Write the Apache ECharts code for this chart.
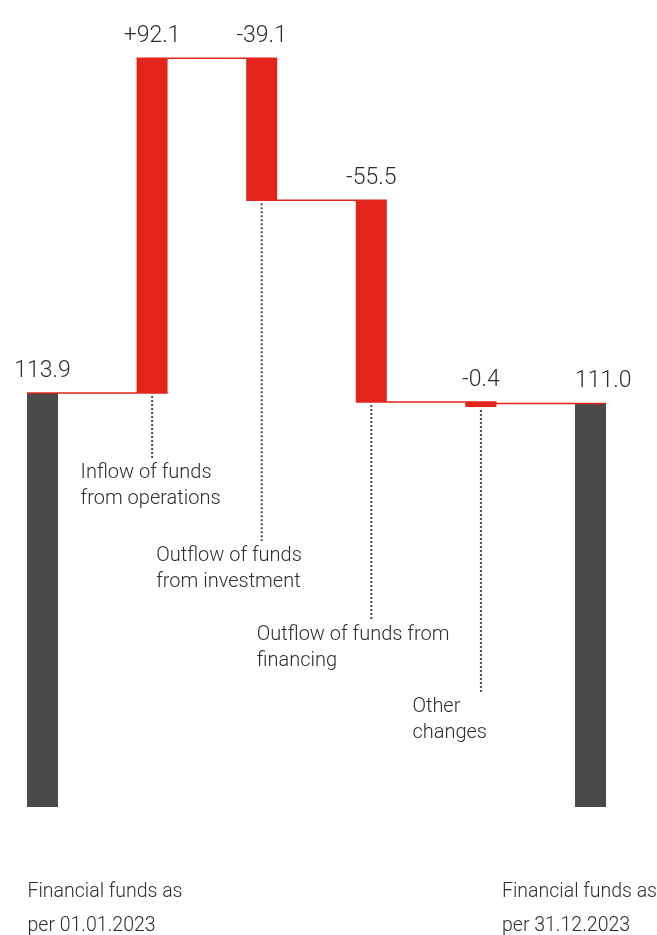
<!DOCTYPE html>
<html>
<head>
<meta charset="utf-8">
<script src="https://cdn.jsdelivr.net/npm/echarts@6/dist/echarts.min.js"></script>
<style>
html,body{margin:0;padding:0;background:#fff;}
#chart{width:657px;height:935px;}
</style>
</head>
<body>
<div id="chart"></div>
<script>
// ---- data ----
const categories = [
  'Financial funds as\nper 01.01.2023',
  'Inflow of funds\nfrom operations',
  'Outflow of funds\nfrom investment',
  'Outflow of funds from\nfinancing',
  'Other\nchanges',
  'Financial funds as\nper 31.12.2023'
];
const barKinds = ['total', 'change', 'change', 'change', 'change', 'total'];
const values = [113.9, 92.1, -39.1, -55.5, -0.4, 111.0];
const valueLabels = ['113.9', '+92.1', '-39.1', '-55.5', '-0.4', '111.0'];

// ---- styling / layout (pixels) ----
const RED = '#e3241b';
const DARK = '#4a4a48';
const TEXT = '#2e2e2e';
const BAR_W = 31;
const labelDx = [-15, -71.5, -105.5, -114.5, -68.5, -88.5];   // label left edge vs bar centre
const noteRise = [null, 349, 266, 187, 115, null];            // note position above baseline

// ---- build waterfall from data ----
let running = 0;
const seriesData = values.map((v, i) => {
  let start, end;
  if (barKinds[i] === 'total') { start = 0; end = v; }
  else { start = running; end = running + v; }
  running = end;
  return [i, start, end];
});
const n = seriesData.length;

function renderItem(params, api) {
  const i = api.value(0);
  const s = api.value(1);
  const e = api.value(2);
  const base = api.coord([i, 0]);
  const cx = base[0];
  const yBase = base[1];
  const yS = api.coord([i, s])[1];
  const yE = api.coord([i, e])[1];
  let top = Math.min(yS, yE);
  let bot = Math.max(yS, yE);
  if (bot - top < 5) bot = top + 5;
  const isTotal = barKinds[i] === 'total';
  const children = [];

  children.push({
    type: 'rect',
    shape: { x: cx - BAR_W / 2, y: top, width: BAR_W, height: bot - top },
    style: { fill: isTotal ? DARK : RED }
  });

  if (i < n - 1) {
    const nx = api.coord([i + 1, e])[0];
    children.push({
      type: 'line',
      shape: { x1: cx - BAR_W / 2, y1: yE, x2: nx + BAR_W / 2, y2: yE },
      style: { stroke: RED, lineWidth: 1.5 },
      z2: 5
    });
  }

  // value label
  const last = i === n - 1;
  children.push({
    type: 'text',
    x: last ? cx - BAR_W / 2 : cx,
    y: top - 14 - 7.8,
    style: {
      text: valueLabels[i],
      font: '300 23px Roboto',
      fill: TEXT,
      align: last ? 'left' : 'center',
      verticalAlign: 'middle'
    }
  });

  // category label
  if (isTotal) {
    children.push({
      type: 'text',
      x: cx + labelDx[i],
      y: yBase + 68.5,
      style: {
        text: categories[i],
        font: '300 19.5px Roboto',
        lineHeight: 34,
        fill: TEXT,
        align: 'left',
        verticalAlign: 'top'
      }
    });
  } else {
    const yEnd = yBase - noteRise[i];
    children.push({
      type: 'line',
      shape: { x1: cx, y1: bot + 3, x2: cx, y2: yEnd },
      style: { stroke: '#4a4a4a', lineWidth: 2, lineDash: [2, 2] }
    });
    children.push({
      type: 'text',
      x: cx + labelDx[i],
      y: yEnd + 1.5,
      style: {
        text: categories[i],
        font: '300 20px Roboto',
        lineHeight: 26,
        fill: TEXT,
        align: 'left',
        verticalAlign: 'top'
      }
    });
  }
  return { type: 'group', children: children };
}

const chart = echarts.init(document.getElementById('chart'), null, { renderer: 'canvas' });
chart.setOption({
  animation: false,
  backgroundColor: '#ffffff',
  grid: { left: 42.5, right: 66.5, top: 0, bottom: 128, containLabel: false },
  xAxis: { type: 'category', data: categories, show: false, boundaryGap: false },
  yAxis: { type: 'value', min: 0, max: 222, show: false },
  series: [{
    type: 'custom',
    clip: false,
    renderItem: renderItem,
    encode: { x: 0, y: [1, 2] },
    data: seriesData
  }]
});
</script>
</body>
</html>
